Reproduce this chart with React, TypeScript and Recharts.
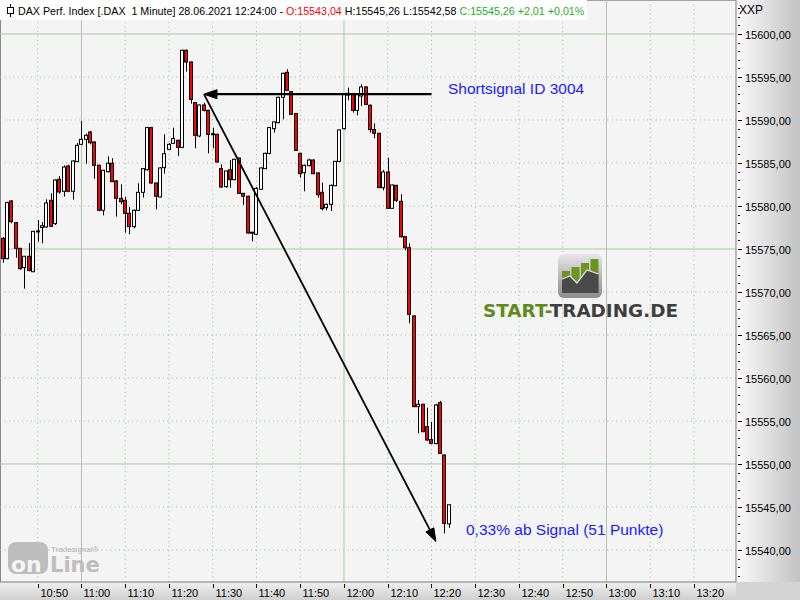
import React from 'react';
import { ComposedChart, Bar, XAxis, YAxis, ReferenceLine } from 'recharts';

// first candle of the series: 10:42 (minutes since midnight)
const FIRST_MINUTE = 642;

const opens = [
  15576.24, 15573.88, 15580.58, 15578.06, 15575.08, 15572.83, 15574.15, 15572.36, 15577.0, 15577.5,
  15577.56, 15580.66, 15577.95, 15583.1, 15581.71, 15584.65, 15581.71, 15585.16, 15587.17, 15587.75,
  15588.6, 15587.44, 15584.73, 15579.5, 15583.99, 15584.96, 15582.91, 15580.89, 15580.66, 15579.15,
  15577.6, 15579.5, 15581.59, 15584.22, 15589.11, 15582.67, 15581.05, 15584.46, 15586.59, 15587.29,
  15587.64, 15586.82, 15598.1, 15596.74, 15592.02, 15588.14, 15591.74, 15591.12, 15588.4, 15588.33,
  15584.34, 15582.25, 15584.22, 15583.06, 15585.58, 15581.47, 15581.13, 15576.86, 15576.71, 15581.94,
  15584.34, 15586.12, 15588.99, 15589.69, 15592.64, 15595.54, 15593.29, 15590.74, 15586.12, 15583.87,
  15584.69, 15585.35, 15583.84, 15581.59, 15579.8, 15580.19, 15582.36, 15585.19, 15588.99, 15592.9,
  15592.98, 15591.12, 15592.79, 15593.84, 15591.71, 15588.88, 15588.45, 15582.13, 15583.95, 15579.73,
  15582.4, 15580.54, 15576.43, 15575.15, 15567.21, 15556.67, 15556.94, 15554.34, 15552.83, 15552.37,
  15557.13, 15551.05, 15543.04,
];
const highs = [
  15576.4, 15580.5, 15580.7, 15578.1, 15575.1, 15574.2, 15575.7, 15577.1, 15578.37, 15578.14,
  15580.78, 15581.47, 15583.1, 15583.49, 15584.73, 15584.8, 15585.3, 15587.33, 15589.88, 15588.41,
  15588.72, 15587.5, 15584.8, 15584.2, 15585.78, 15585.55, 15583.0, 15582.52, 15581.09, 15579.88,
  15579.6, 15582.64, 15584.4, 15589.2, 15589.2, 15582.7, 15584.5, 15588.33, 15587.3, 15589.11,
  15587.7, 15598.2, 15598.2, 15596.8, 15592.1, 15591.8, 15592.0, 15591.2, 15589.11, 15588.4,
  15584.84, 15584.1, 15585.35, 15585.5, 15585.6, 15581.5, 15581.2, 15577.0, 15582.2, 15584.5,
  15586.2, 15589.2, 15589.8, 15592.7, 15595.5, 15595.9, 15593.3, 15590.8, 15586.2, 15584.8,
  15585.5, 15585.4, 15583.9, 15582.71, 15580.3, 15582.5, 15585.2, 15588.9, 15593.0, 15593.76,
  15593.0, 15593.0, 15594.15, 15593.9, 15591.8, 15589.61, 15588.5, 15584.19, 15585.62, 15582.5,
  15582.45, 15581.36, 15576.5, 15575.66, 15567.3, 15557.44, 15557.0, 15556.55, 15554.88, 15557.0,
  15557.33, 15551.1, 15545.26,
];
const lows = [
  15573.41, 15573.8, 15578.0, 15573.99, 15572.59, 15570.39, 15572.4, 15572.3, 15575.85, 15575.66,
  15577.48, 15577.6, 15577.79, 15581.43, 15581.09, 15581.6, 15580.74, 15585.1, 15587.1, 15584.92,
  15587.17, 15583.18, 15579.4, 15578.91, 15583.9, 15582.8, 15578.76, 15580.19, 15576.9, 15576.71,
  15577.4, 15579.4, 15580.97, 15584.1, 15582.6, 15579.62, 15581.0, 15583.76, 15586.5, 15587.2,
  15585.81, 15586.71, 15595.62, 15591.9, 15586.71, 15588.0, 15591.0, 15586.12, 15586.71, 15585.0,
  15582.1, 15582.1, 15582.13, 15583.0, 15581.4, 15580.12, 15576.8, 15575.9, 15576.6, 15581.9,
  15584.3, 15586.0, 15588.53, 15589.6, 15590.08, 15593.4, 15590.6, 15586.4, 15583.29, 15581.71,
  15584.6, 15583.7, 15580.97, 15579.5, 15579.5, 15579.42, 15582.3, 15585.1, 15588.9, 15592.29,
  15590.85, 15590.54, 15591.63, 15591.8, 15588.53, 15587.87, 15582.1, 15581.82, 15579.7, 15579.7,
  15580.47, 15576.32, 15574.85, 15566.36, 15556.6, 15553.57, 15553.7, 15552.7, 15552.3, 15552.3,
  15551.2, 15541.94, 15542.58,
];
const closes = [
  15573.88, 15580.39, 15578.18, 15575.08, 15572.71, 15574.15, 15572.52, 15577.05, 15577.1, 15577.7,
  15580.35, 15577.64, 15583.02, 15581.63, 15584.53, 15581.71, 15585.23, 15587.05, 15587.75, 15588.22,
  15587.36, 15584.73, 15579.5, 15584.15, 15584.96, 15582.83, 15580.89, 15580.5, 15579.15, 15577.6,
  15579.5, 15581.59, 15584.34, 15589.11, 15582.67, 15581.13, 15584.42, 15586.08, 15587.17, 15587.83,
  15586.82, 15598.1, 15596.74, 15592.4, 15588.22, 15591.74, 15591.12, 15588.33, 15588.3, 15585.12,
  15582.21, 15584.07, 15583.06, 15585.43, 15581.47, 15581.13, 15576.86, 15576.95, 15582.05, 15584.42,
  15586.12, 15589.11, 15589.77, 15592.64, 15595.43, 15593.45, 15590.66, 15586.47, 15583.76, 15584.73,
  15585.35, 15583.76, 15581.31, 15579.69, 15580.19, 15582.4, 15585.19, 15588.84, 15592.98, 15593.1,
  15591.12, 15592.98, 15593.84, 15591.82, 15588.88, 15588.45, 15582.13, 15583.95, 15579.73, 15582.44,
  15580.66, 15576.43, 15575.15, 15567.4, 15556.67, 15556.94, 15553.76, 15552.79, 15552.4, 15556.86,
  15551.24, 15543.1, 15545.26,
];

const timeTicks = [650, 660, 670, 680, 690, 700, 710, 720, 730, 740, 750, 760, 770, 780, 790, 800];
const timeLabels = ['10:50', '11:00', '11:10', '11:20', '11:30', '11:40', '11:50', '12:00', '12:10', '12:20', '12:30', '12:40', '12:50', '13:00', '13:10', '13:20'];
const solidTimes = [660, 720, 780];
const dottedTimes = [650, 670, 680, 690, 700, 710, 730, 740, 750, 760, 770, 790, 800];

const priceLabels = [15540, 15545, 15550, 15555, 15560, 15565, 15570, 15575, 15580, 15585, 15590, 15595, 15600];
const solidPrices = [15550, 15575, 15600];
const dottedPrices = [15540, 15545, 15555, 15560, 15565, 15570, 15580, 15585, 15590, 15595];
const PRICE_MIN = 15536.28;
const PRICE_MAX = 15603.95;
const TIME_MIN = 641.38;
const TIME_MAX = 809.6;

// all 1-point minor ticks of the price axis
const priceTicks: number[] = [];
for (let p = Math.ceil(PRICE_MIN); p <= Math.floor(PRICE_MAX); p++) priceTicks.push(p);

// signal annotation
const signalTimes = [688, 740, 741];
const signalPrices = [15593, 15541];

const data = opens.map((o, i) => ({
  t: FIRST_MINUTE + i,
  open: o,
  high: highs[i],
  low: lows[i],
  close: closes[i],
  range: [lows[i], highs[i]],
}));

const Candle = (props: any) => {
  const { x, y, width, height, payload } = props;
  if (!payload || x == null || y == null) return null;
  const { open, high, low, close } = payload;
  const top = Math.min(y, y + height);
  const bottom = Math.max(y, y + height);
  const span = high - low;
  const ppu = span > 0 ? (bottom - top) / span : 0;
  const py = (p: number) => top + (high - p) * ppu;
  const cx = Math.round(x + width / 2) + 0.5;
  const bTop = py(Math.max(open, close));
  const bBot = py(Math.min(open, close));
  const bh = Math.max(bBot - bTop, 1);
  const up = close >= open;
  return (
    <g>
      <line x1={cx} x2={cx} y1={top} y2={bottom} stroke="#000" strokeWidth={1} />
      <rect x={cx - 2} y={bTop} width={3} height={bh} fill={up ? '#ffffff' : '#ff0000'} stroke="#000" strokeWidth={1} />
    </g>
  );
};

const TimeTick = (props: any) => {
  const { x, y, payload } = props;
  const idx = timeTicks.indexOf(payload.value);
  const lx = Math.round(x) + 0.5;
  return (
    <g>
      <line x1={lx} x2={lx} y1={y + 2} y2={y + 6} stroke="#000" strokeWidth={1} />
      <text x={lx + 2} y={y + 15} fontSize={11} fontFamily="Liberation Sans, Arial, sans-serif" fill="#000">
        {idx >= 0 ? timeLabels[idx] : ''}
      </text>
    </g>
  );
};

const PriceTick = (props: any) => {
  const { x, y, payload } = props;
  const v = payload.value as number;
  const major = priceLabels.indexOf(v) >= 0;
  const ly = Math.round(y) + 0.5;
  return (
    <g>
      <line x1={x + 2} x2={x + (major ? 6 : 4)} y1={ly} y2={ly} stroke="#000" strokeWidth={1} />
      {major && (
        <text x={x + 9} y={ly + 4} fontSize={11} fontFamily="Liberation Sans, Arial, sans-serif" fill="#000">
          {v.toFixed(2).replace('.', ',')}
        </text>
      )}
    </g>
  );
};

const Arrow = (props: any) => {
  const { x1, y1, x2, y2, sw } = props;
  if ([x1, y1, x2, y2].some((v) => v == null || isNaN(v))) return null;
  const ang = Math.atan2(y2 - y1, x2 - x1);
  const L = 13;
  const W = 4.5;
  const bx = x2 - L * Math.cos(ang);
  const by = y2 - L * Math.sin(ang);
  const pts = [
    [x2, y2],
    [bx + W * Math.sin(ang), by - W * Math.cos(ang)],
    [bx - W * Math.sin(ang), by + W * Math.cos(ang)],
  ]
    .map((p) => p.join(','))
    .join(' ');
  return (
    <g>
      <line x1={x1} y1={y1} x2={bx + 2 * Math.cos(ang)} y2={by + 2 * Math.sin(ang)} stroke="#000" strokeWidth={sw} />
      <polygon points={pts} fill="#000" stroke="#000" strokeWidth={1} />
    </g>
  );
};

const FONT = 'Liberation Sans, Arial, sans-serif';

export default function App() {
  return (
    <div style={{ position: 'fixed', left: 0, top: 0, width: 800, height: 600, overflow: 'hidden', background: '#f4f4f4' }}>
      <svg width={800} height={600} style={{ position: 'absolute', left: 0, top: 0 }}>
        <defs>
          <linearGradient id="gR" x1="0" y1="0" x2="1" y2="0">
            <stop offset="0" stopColor="#fbfbfb" />
            <stop offset="1" stopColor="#c2c2c2" />
          </linearGradient>
          <linearGradient id="gB" x1="0" y1="0" x2="0" y2="1">
            <stop offset="0" stopColor="#f0f0f0" />
            <stop offset="1" stopColor="#cfcfcf" />
          </linearGradient>
        </defs>
        <rect x={0} y={0} width={736} height={582} fill="#f4f4f4" />
        <rect x={736} y={0} width={64} height={582} fill="url(#gR)" />
        <rect x={0} y={582} width={736} height={18} fill="url(#gB)" />
        <rect x={736} y={582} width={64} height={18} fill="#d4d4d4" />
        <line x1={0.5} y1={0} x2={0.5} y2={582} stroke="#8a8a8a" />
        <line x1={0} y1={0.5} x2={736} y2={0.5} stroke="#a0a0a0" />
      </svg>
      <div style={{ position: 'absolute', left: 0, top: 0 }}>
        <ComposedChart width={800} height={600} data={data} margin={{ top: 0, right: 0, bottom: 0, left: 0 }}>
          <XAxis
            dataKey="t"
            type="number"
            domain={[TIME_MIN, TIME_MAX]}
            allowDataOverflow
            ticks={timeTicks}
            interval={0}
            tickSize={0}
            tickMargin={0}
            tick={<TimeTick />}
            tickLine={false}
            height={18}
            axisLine={{ stroke: '#7a7a7a' }}
          />
          <YAxis
            orientation="right"
            type="number"
            domain={[PRICE_MIN, PRICE_MAX]}
            allowDataOverflow
            ticks={priceTicks}
            interval={0}
            tickSize={0}
            tickMargin={0}
            tick={<PriceTick />}
            tickLine={false}
            width={64}
            axisLine={{ stroke: '#7a7a7a' }}
          />
          {dottedPrices.map((p) => (
            <ReferenceLine key={'dp' + p} y={p} stroke="#94c094" strokeDasharray="1 3.4" zIndex={-60} />
          ))}
          {solidPrices.map((p) => (
            <ReferenceLine key={'sp' + p} y={p} stroke="#abc6ab" strokeWidth={1} zIndex={-60} />
          ))}
          {dottedTimes.map((t) => (
            <ReferenceLine key={'dt' + t} x={t} stroke="#94c094" strokeDasharray="1 3.4" zIndex={-60} />
          ))}
          {solidTimes.map((t) => (
            <ReferenceLine key={'st' + t} x={t} stroke="#abc6ab" strokeWidth={1} zIndex={-60} />
          ))}
          <Bar dataKey="range" shape={(p: any) => <Candle {...p} />} barSize={4} isAnimationActive={false} />
          <ReferenceLine
            segment={[
              { x: signalTimes[1], y: signalPrices[0] },
              { x: signalTimes[0], y: signalPrices[0] },
            ]}
            shape={(p: any) => <Arrow {...p} sw={2.2} />}
            zIndex={1500}
          />
          <ReferenceLine
            segment={[
              { x: signalTimes[0], y: signalPrices[0] },
              { x: signalTimes[2], y: signalPrices[1] },
            ]}
            shape={(p: any) => <Arrow {...p} sw={1.8} />}
            zIndex={1500}
          />
        </ComposedChart>
      </div>
      <svg width={800} height={600} style={{ position: 'absolute', left: 0, top: 0, pointerEvents: 'none' }}>
        <defs>
          <linearGradient id="gLogo" x1="0" y1="0" x2="0" y2="1">
            <stop offset="0" stopColor="#e6e6e6" />
            <stop offset="1" stopColor="#8c8c8c" />
          </linearGradient>
        </defs>
        {/* header */}
        <rect x={0} y={0} width={587} height={20} fill="#ffffff" />
        <line x1={10.5} y1={4} x2={10.5} y2={17} stroke="#000" />
        <rect x={7.5} y={7.5} width={6} height={6} fill="#fff" stroke="#000" />
        <text x={18} y={15} fontSize={10.7} fontFamily={FONT} fill="#000" style={{ whiteSpace: 'pre' }}>
          <tspan>{'DAX Perf. Index [.DAX \u00a01 Minute] 28.06.2021 12:24:00 - '}</tspan>
          <tspan fill="#ff0000">O:15543,04</tspan>
          <tspan>{' H:15545,26 L:15542,58 '}</tspan>
          <tspan fill="#1fae1f">C:15545,26 +2,01 +0,01%</tspan>
        </text>
        <text x={739} y={14} fontSize={12} fontFamily={FONT} fill="#000">XXP</text>

        {/* annotations */}
        <text x={448} y={94} fontSize={15.5} fontFamily={FONT} fill="#1a1aff">Shortsignal ID 3004</text>
        <text x={466} y={535} fontSize={15.5} fontFamily={FONT} fill="#1a1aff">0,33% ab Signal (51 Punkte)</text>

        {/* START-TRADING.DE logo */}
        <rect x={558} y={254} width={44} height={44} rx={6} fill="url(#gLogo)" />
        <rect x={562} y={271} width={8} height={22} fill="#6b9420" />
        <rect x={571.5} y={267} width={8} height={26} fill="#6b9420" />
        <rect x={581} y={263} width={8} height={30} fill="#6b9420" />
        <rect x={590.5} y={259} width={8} height={34} fill="#6b9420" />
        <polygon points="562,279 570,276 577,283 587,270 598.5,274 598.5,293 562,293" fill="#4a4a4a" />
        <polyline points="562,279 570,276 577,283 587,270 598.5,274" fill="none" stroke="#e8e8e8" strokeWidth={1.2} />
        <text x={483} y={317} fontSize={18} fontWeight="bold" fontFamily="DejaVu Sans, sans-serif" textLength={195} lengthAdjust="spacingAndGlyphs">
          <tspan fill="#5f8a1c">START-</tspan>
          <tspan fill="#3e3e3e">TRADING.DE</tspan>
        </text>

        {/* Tradesignal online watermark */}
        <rect x={8} y={542} width={40} height={32} rx={8} fill="#bdbdbd" />
        <text x={11} y={572} fontSize={22} fontWeight="bold" fontFamily="DejaVu Sans, sans-serif" fill="#f4f4f4">on</text>
        <text x={50} y={572} fontSize={21} fontWeight="bold" fontFamily="DejaVu Sans, sans-serif" fill="#bdbdbd">Line</text>
        <text x={51} y={552} fontSize={8} fontFamily={FONT} fill="#b0b0b0">Tradesignal®</text>
      </svg>
    </div>
  );
}
